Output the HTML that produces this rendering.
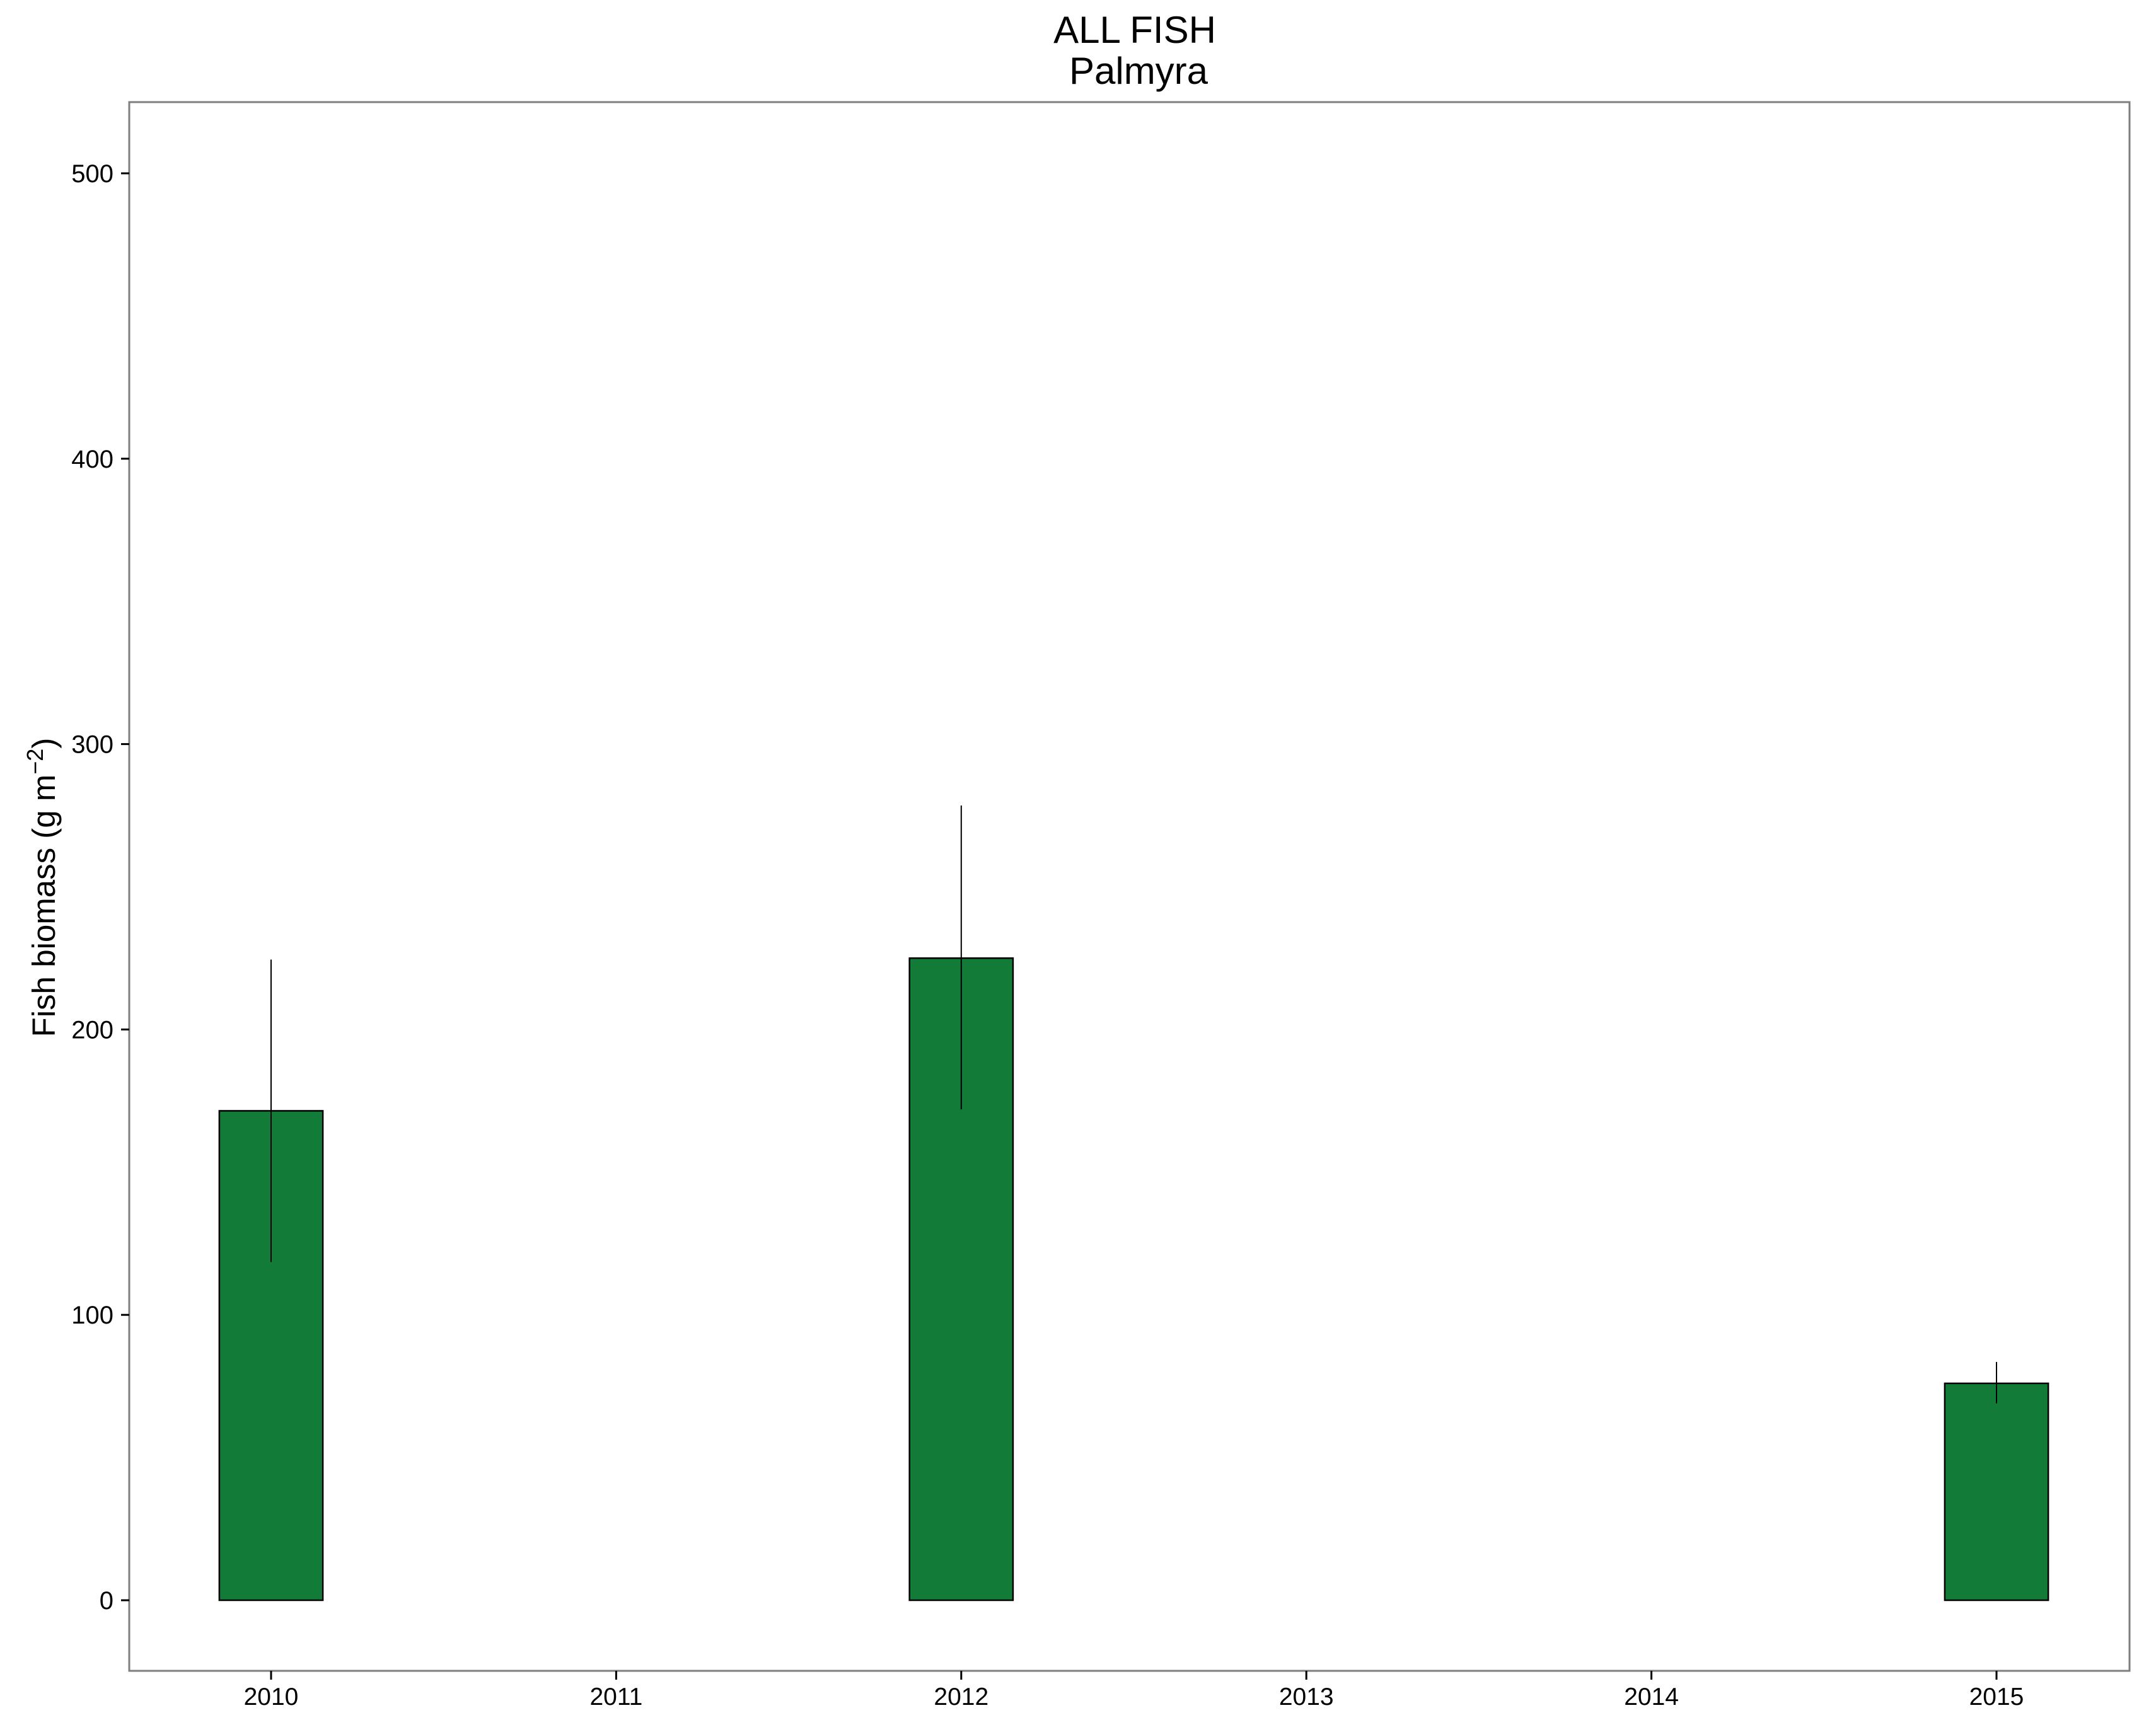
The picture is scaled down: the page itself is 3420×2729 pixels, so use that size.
<!DOCTYPE html>
<html><head><meta charset="utf-8"><style>
html,body{margin:0;padding:0;background:#fff;}
svg{display:block;font-family:"Liberation Sans",Arial,sans-serif;}
</style></head><body>
<svg id="chart" width="3420" height="2729" viewBox="0 0 3420 2729" xmlns="http://www.w3.org/2000/svg">
<rect x="0" y="0" width="3420" height="2729" fill="#fff"/>
<text x="1800" y="68" font-size="60" text-anchor="middle">ALL FISH</text>
<text x="1806" y="133" font-size="60" text-anchor="middle">Palmyra</text>
<g id="plot"></g>
<text transform="translate(87,1408) rotate(-90)" font-size="51" text-anchor="middle">Fish biomass (g m<tspan dy="-19" font-size="36">−2</tspan><tspan dy="19">)</tspan></text>
</svg>
<script>
const years = [2010, 2011, 2012, 2013, 2014, 2015];
const barYears = [2010, 2012, 2015];
const means = [171.5, 225, 76];
const lowers = [118.5, 172, 69];
const uppers = [224.5, 278.5, 83.5];
const yTicks = [0, 100, 200, 300, 400, 500];

const NS = 'http://www.w3.org/2000/svg';
const g = document.getElementById('plot');
const panel = {l:205, r:3378, t:162, b:2651};
const y0px = 2539, pxPer = 452.8;
const x0px = 430, pxYear = 547.4;
function yS(v){ return y0px - v * pxPer / 100; }
function xS(yr){ return x0px + (yr - 2010) * pxYear; }
function mk(tag, attrs){ const e = document.createElementNS(NS, tag); for (const k in attrs) e.setAttribute(k, attrs[k]); g.appendChild(e); return e; }

const frame = mk('rect', {x:panel.l, y:panel.t, width:panel.r-panel.l, height:panel.b-panel.t, fill:'none', stroke:'#7f7f7f', 'stroke-width':3});



yTicks.forEach(v => {
  const t = mk('line', {x1:192, x2:panel.l, y1:yS(v), y2:yS(v), stroke:'#000', 'stroke-width':3});
  
  
  const lb = mk('text', {x:180, y:yS(v)+14, 'font-size':40, 'text-anchor':'end'});
  lb.textContent = v;
  
  
});
years.forEach(yr => {
  const t = mk('line', {x1:xS(yr), x2:xS(yr), y1:panel.b, y2:2665, stroke:'#000', 'stroke-width':3});
  
  
  const lb = mk('text', {x:xS(yr), y:2705, 'font-size':39, 'text-anchor':'middle'});
  lb.textContent = yr;
  
  
});
const halfW = 0.15 * pxYear;
barYears.forEach((yr, i) => {
  const b = mk('rect', {x:xS(yr)-halfW, y:yS(means[i]), width:2*halfW, height:yS(0)-yS(means[i]), fill:'#127B37', stroke:'#000', 'stroke-width':2.5});
  
  
  const e = mk('line', {x1:xS(yr), x2:xS(yr), y1:yS(uppers[i]), y2:yS(lowers[i]), stroke:'#000', 'stroke-width':2});
  
  
});
</script>
</body></html>
